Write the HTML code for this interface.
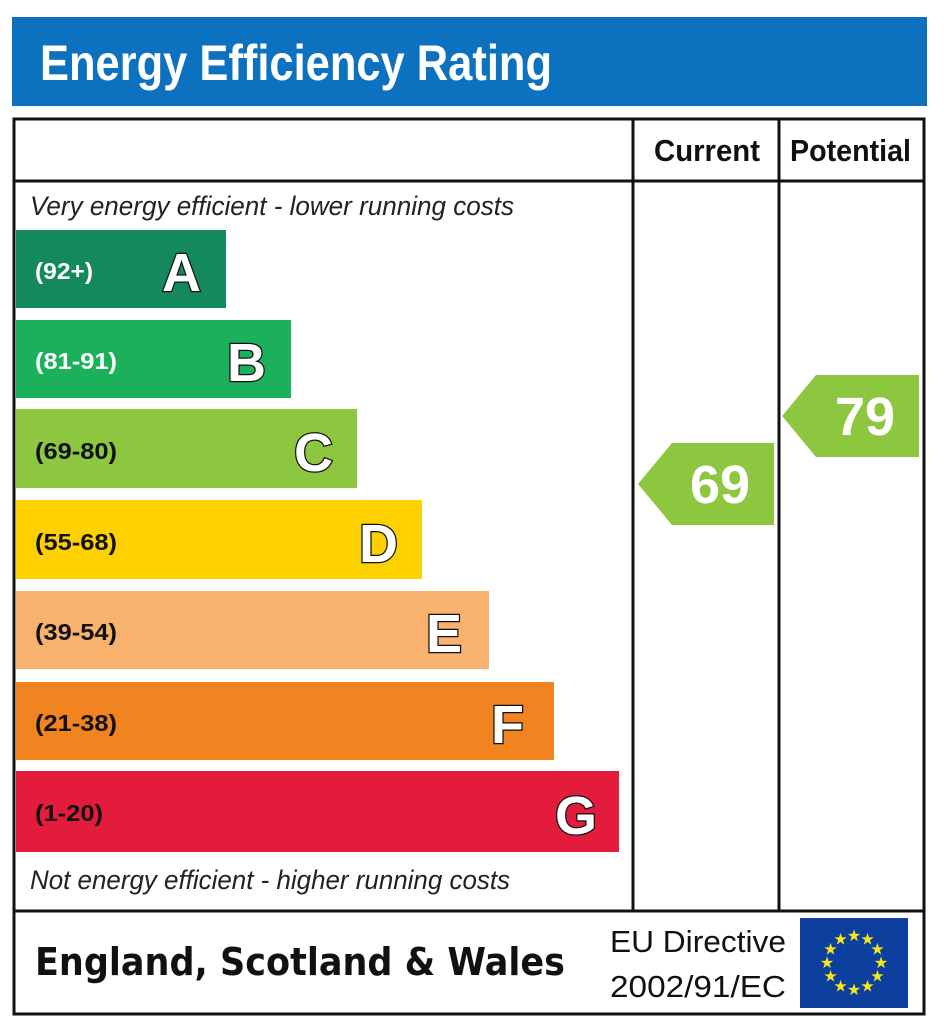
<!DOCTYPE html>
<html><head><meta charset="utf-8"><style>html,body{margin:0;padding:0;background:#fff}svg{display:block}</style></head>
<body>
<svg width="944" height="1024" viewBox="0 0 944 1024" xmlns="http://www.w3.org/2000/svg" style="font-family:'Liberation Sans', Arial, sans-serif">
<rect x="12" y="17" width="915" height="89" fill="#0c72bf"/>
<text x="40" y="80" font-size="50" font-weight="bold" fill="#fff" textLength="512" lengthAdjust="spacingAndGlyphs">Energy Efficiency Rating</text>
<rect x="14" y="119" width="910" height="895" fill="none" stroke="#111" stroke-width="3"/>
<line x1="14" y1="181" x2="924" y2="181" stroke="#111" stroke-width="3"/>
<line x1="14" y1="911" x2="924" y2="911" stroke="#111" stroke-width="3"/>
<line x1="633" y1="119" x2="633" y2="911" stroke="#111" stroke-width="3"/>
<line x1="779" y1="119" x2="779" y2="911" stroke="#111" stroke-width="3"/>
<text x="654" y="161" font-size="31" font-weight="bold" fill="#111" textLength="106" lengthAdjust="spacingAndGlyphs">Current</text>
<text x="790" y="161" font-size="31" font-weight="bold" fill="#111" textLength="121" lengthAdjust="spacingAndGlyphs">Potential</text>
<text x="30" y="215" font-size="27" font-style="italic" fill="#222" textLength="484" lengthAdjust="spacingAndGlyphs">Very energy efficient - lower running costs</text>
<text x="30" y="889" font-size="27" font-style="italic" fill="#222" textLength="480" lengthAdjust="spacingAndGlyphs">Not energy efficient - higher running costs</text>
<g font-weight="bold">
<rect x="16" y="230" width="210" height="78" fill="#148a5c"/>
<text x="35" y="279" font-size="23" fill="#fff" textLength="58" lengthAdjust="spacingAndGlyphs">(92+)</text>
<text x="201" y="291" font-size="54" fill="#fff" stroke="#111" stroke-width="2.5" paint-order="stroke" text-anchor="end">A</text>
<rect x="16" y="320" width="275" height="78" fill="#1bb15b"/>
<text x="35" y="369" font-size="23" fill="#fff" textLength="82" lengthAdjust="spacingAndGlyphs">(81-91)</text>
<text x="266" y="381" font-size="54" fill="#fff" stroke="#111" stroke-width="2.5" paint-order="stroke" text-anchor="end">B</text>
<rect x="16" y="409" width="341" height="79" fill="#8dc63f"/>
<text x="35" y="459" font-size="23" fill="#111" textLength="82" lengthAdjust="spacingAndGlyphs">(69-80)</text>
<text x="333" y="471" font-size="54" fill="#fff" stroke="#111" stroke-width="2.5" paint-order="stroke" text-anchor="end">C</text>
<rect x="16" y="500" width="406" height="79" fill="#fdd000"/>
<text x="35" y="550" font-size="23" fill="#111" textLength="82" lengthAdjust="spacingAndGlyphs">(55-68)</text>
<text x="398" y="562" font-size="54" fill="#fff" stroke="#111" stroke-width="2.5" paint-order="stroke" text-anchor="end">D</text>
<rect x="16" y="591" width="473" height="78" fill="#f9b26d"/>
<text x="35" y="640" font-size="23" fill="#111" textLength="82" lengthAdjust="spacingAndGlyphs">(39-54)</text>
<text x="462" y="652" font-size="54" fill="#fff" stroke="#111" stroke-width="2.5" paint-order="stroke" text-anchor="end">E</text>
<rect x="16" y="682" width="538" height="78" fill="#f28321"/>
<text x="35" y="731" font-size="23" fill="#111" textLength="82" lengthAdjust="spacingAndGlyphs">(21-38)</text>
<text x="524" y="743" font-size="54" fill="#fff" stroke="#111" stroke-width="2.5" paint-order="stroke" text-anchor="end">F</text>
<rect x="16" y="771" width="603" height="81" fill="#e31b3d"/>
<text x="35" y="821" font-size="23" fill="#111" textLength="68" lengthAdjust="spacingAndGlyphs">(1-20)</text>
<text x="597" y="834" font-size="54" fill="#fff" stroke="#111" stroke-width="2.5" paint-order="stroke" text-anchor="end">G</text>
</g>
<polygon points="638,484 672,443 774,443 774,525 672,525" fill="#8dc63f"/>
<text x="720" y="503" font-size="54" font-weight="bold" fill="#fff" text-anchor="middle">69</text>
<polygon points="782,416 816,375 919,375 919,457 816,457" fill="#8dc63f"/>
<text x="865" y="435" font-size="54" font-weight="bold" fill="#fff" text-anchor="middle">79</text>
<text x="35" y="975" font-family="DejaVu Sans, sans-serif" font-size="38" font-weight="bold" fill="#111" textLength="530" lengthAdjust="spacingAndGlyphs">England, Scotland &amp; Wales</text>
<text x="610" y="952" font-size="31" fill="#111" textLength="176" lengthAdjust="spacingAndGlyphs">EU Directive</text>
<text x="610" y="997" font-size="31" fill="#111" textLength="176" lengthAdjust="spacingAndGlyphs">2002/91/EC</text>
<rect x="800" y="918" width="108" height="90" fill="#0d3f9e"/>
<g fill="#f5e71a" font-size="16" text-anchor="middle">
<text x="854" y="941">★</text><text x="867.5" y="944.6">★</text><text x="877.4" y="954.5">★</text><text x="881" y="968">★</text><text x="877.4" y="981.5">★</text><text x="867.5" y="991.4">★</text><text x="854" y="995">★</text><text x="840.5" y="991.4">★</text><text x="830.6" y="981.5">★</text><text x="827" y="968">★</text><text x="830.6" y="954.5">★</text><text x="840.5" y="944.6">★</text>
</g>
</svg>
</body></html>
